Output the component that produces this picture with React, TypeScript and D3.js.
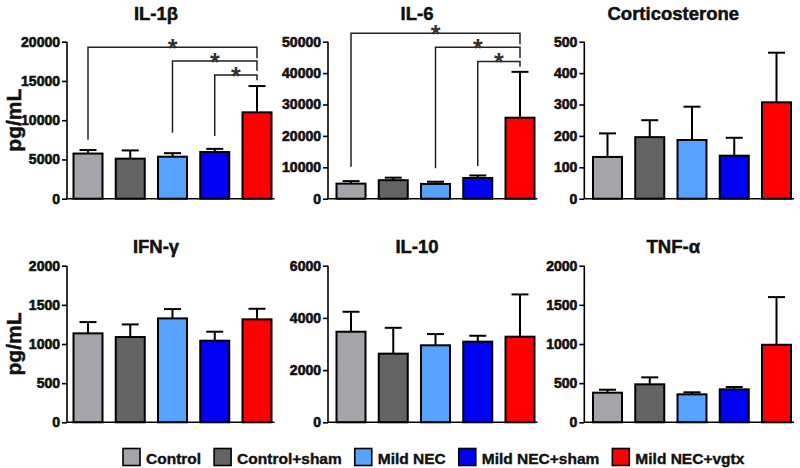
import React, { useEffect, useRef } from 'react';
import * as d3 from 'd3';

const width = 800;
const height = 468;

// groups and their fill colours
const groups = ['Control', 'Control+sham', 'Mild NEC', 'Mild NEC+sham', 'Mild NEC+vgtx'];
const groupColors = ['#a4a4aa', '#636363', '#56a3ff', '#0000f2', '#ff0000'];

// mean and SEM per cytokine
const il1bMean = [5750, 5100, 5350, 5950, 11000];
const il1bSem = [450, 1050, 450, 400, 3350];
const il6Mean = [4800, 5900, 4700, 6600, 25800];
const il6Sem = [800, 800, 700, 800, 14600];
const cortMean = [133, 196, 187, 137, 307];
const cortSem = [75, 54, 106, 57, 158];
const ifnMean = [1136, 1089, 1327, 1042, 1315];
const ifnSem = [144, 161, 119, 115, 135];
const il10Mean = [3470, 2630, 2950, 3090, 3280];
const il10Sem = [765, 990, 430, 225, 1620];
const tnfMean = [378, 485, 357, 421, 990];
const tnfSem = [38, 89, 26, 30, 609];

// tick labels
const il1bTicks = [0, 5000, 10000, 15000, 20000];
const il6Ticks = [0, 10000, 20000, 30000, 40000, 50000];
const cortTicks = [0, 100, 200, 300, 400, 500];
const ifnTicks = [0, 500, 1000, 1500, 2000];
const il10Ticks = [0, 2000, 4000, 6000];
const tnfTicks = [0, 500, 1000, 1500, 2000];

// significance brackets: [from group, to group, line value, left drop to, right drop to]
const il1bBrackets = [[0, 4, 19300, 7500, 17900], [2, 4, 17550, 8400, 16300], [3, 4, 15750, 8000, 15100]];
const il6Brackets = [[0, 4, 52700, 10200, 49200], [2, 4, 48200, 9700, 44800], [3, 4, 43700, 10400, 42000]];

const titles = ['IL-1β', 'IL-6', 'Corticosterone', 'IFN-γ', 'IL-10', 'TNF-α'];
const means = [il1bMean, il6Mean, cortMean, ifnMean, il10Mean, tnfMean];
const sems = [il1bSem, il6Sem, cortSem, ifnSem, il10Sem, tnfSem];
const ticks = [il1bTicks, il6Ticks, cortTicks, ifnTicks, il10Ticks, tnfTicks];
const brackets = [il1bBrackets, il6Brackets, [], [], [], []];

const axisX = [67, 328, 584.3];
const barStart = [73.5, 336.5, 593];
const rowY = [[198.7, 41.7], [422.3, 265.7]];
const titleY = [20, 253];
const font = "'Liberation Sans', Arial, Helvetica, sans-serif";

// heavier text, like the source figure
function bold(sel: any, size: number, thick = 0.45) {
    sel.attr('font-family', font)
        .attr('font-weight', 'bold')
        .attr('font-size', size)
        .attr('fill', '#111')
        .attr('stroke', '#111')
        .attr('stroke-width', thick);
}

export default function App() {
    const ref = useRef<SVGSVGElement>(null);

    useEffect(() => {
        document.body.style.margin = '0';
        const svg = d3.select(ref.current);
        svg.selectAll('*').remove();
        svg.append('rect').attr('width', width).attr('height', height).attr('fill', '#fff');

        titles.forEach((title, i) => {
            const col = i % 3;
            const row = Math.floor(i / 3);
            const tk = ticks[i];
            const x = d3.scaleBand<string>()
                .domain(groups)
                .range([barStart[col], barStart[col] + 198])
                .paddingInner(0.3136)
                .paddingOuter(0);
            const y = d3.scaleLinear()
                .domain([0, tk[tk.length - 1]])
                .range(rowY[row]);
            const g = svg.append('g');

            // title
            bold(g.append('text')
                .attr('x', axisX[col] + 89)
                .attr('y', titleY[row])
                .attr('text-anchor', 'middle')
                .text(title), 18.5, 0.5);

            // bars with upper error bars
            groups.forEach((grp, j) => {
                g.append('rect')
                    .attr('x', x(grp)!)
                    .attr('y', y(means[i][j]))
                    .attr('width', x.bandwidth())
                    .attr('height', y(0) - y(means[i][j]))
                    .attr('fill', groupColors[j])
                    .attr('stroke', '#000')
                    .attr('stroke-width', 2);
                const cx = x(grp)! + x.bandwidth() / 2;
                const top = y(means[i][j] + sems[i][j]);
                g.append('line')
                    .attr('x1', cx).attr('x2', cx)
                    .attr('y1', y(means[i][j])).attr('y2', top)
                    .attr('stroke', '#000').attr('stroke-width', 2);
                g.append('line')
                    .attr('x1', cx - 8.5).attr('x2', cx + 8.5)
                    .attr('y1', top).attr('y2', top)
                    .attr('stroke', '#000').attr('stroke-width', 2);
            });

            // axes
            const axis = d3.axisLeft(y).tickValues(tk).tickSize(5).tickPadding(2).tickFormat(d3.format('d'));
            const ag = g.append('g').attr('transform', `translate(${axisX[col]},0)`).call(axis);
            ag.select('.domain').attr('stroke', '#000').attr('stroke-width', 1.6)
                .attr('d', `M0,${y(0)}V${y(tk[tk.length - 1])}`);
            ag.selectAll('.tick line').attr('stroke', '#000').attr('stroke-width', 1.6);
            bold(ag.selectAll('.tick text'), 14, 0.6);
            const lastBar = x(groups[groups.length - 1])! + x.bandwidth();
            g.append('line')
                .attr('x1', axisX[col]).attr('x2', lastBar + 3)
                .attr('y1', y(0)).attr('y2', y(0))
                .attr('stroke', '#000').attr('stroke-width', 1.6);

            // significance brackets
            brackets[i].forEach(b => {
                const x1 = x(groups[b[0]])! + x.bandwidth() / 2;
                const x2 = x(groups[b[1]])! + x.bandwidth() / 2;
                const yl = y(b[2]);
                g.append('path')
                    .attr('d', `M${x1},${y(b[3])}V${yl}H${x2}V${y(b[4])}`)
                    .attr('fill', 'none')
                    .attr('stroke', '#222')
                    .attr('stroke-width', 1.5);
                g.append('text')
                    .attr('x', (x1 + x2) / 2)
                    .attr('y', yl + 10)
                    .attr('text-anchor', 'middle')
                    .attr('font-family', font)
                    .attr('font-weight', 'bold')
                    .attr('font-size', 25)
                    .attr('fill', '#333')
                    .text('*');
            });
        });

        // y axis labels
        rowY.forEach(r => {
            bold(svg.append('text')
                .attr('transform', `translate(21,${(r[0] + r[1]) / 2}) rotate(-90)`)
                .attr('text-anchor', 'middle')
                .text('pg/mL'), 21, 0.5);
        });

        // legend, laid out with measured text widths
        let lx = 123;
        groups.forEach((grp, j) => {
            svg.append('rect')
                .attr('x', lx).attr('y', 448.5)
                .attr('width', 17).attr('height', 17)
                .attr('fill', groupColors[j])
                .attr('stroke', '#000')
                .attr('stroke-width', 1.6);
            const t = svg.append('text')
                .attr('x', lx + 23)
                .attr('y', 464)
                .text(grp);
            bold(t, 15.5, 0.4);
            const w = (t.node() as SVGTextElement).getComputedTextLength();
            lx += 23 + w + 13;
        });
    }, []);

    return <svg ref={ref} width={width} height={height} style={{ display: 'block' }} />;
}
